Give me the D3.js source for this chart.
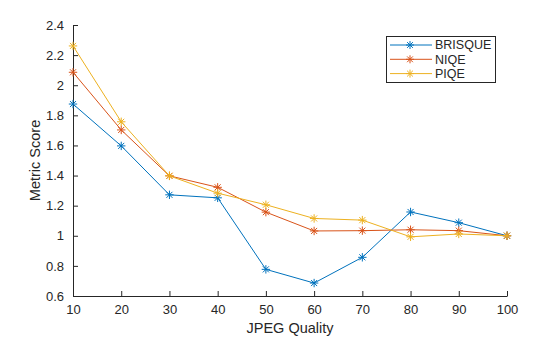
<!DOCTYPE html>
<html lang="en">
<head>
<meta charset="UTF-8">
<title>Metric Score vs JPEG Quality</title>
<script src="https://d3js.org/d3.v7.min.js"></script>
<style>
  body { margin: 0; background: #fff; }
  svg { font-family: "Liberation Sans", Arial, sans-serif; }
</style>
</head>
<body>
<svg id="chart" width="560" height="337"></svg>
<script>
// quality levels and scores per metric
var quality = [10, 20, 30, 40, 50, 60, 70, 80, 90, 100];
var brisque = [1.875, 1.597, 1.272, 1.252, 0.777, 0.686, 0.857, 1.158, 1.087, 1.0];
var niqe    = [2.086, 1.703, 1.398, 1.322, 1.157, 1.032, 1.034, 1.040, 1.034, 1.0];
var piqe    = [2.261, 1.757, 1.398, 1.283, 1.206, 1.115, 1.104, 0.993, 1.012, 1.0];
var seriesNames = ["BRISQUE", "NIQE", "PIQE"];
var yTicks = [0.6, 0.8, 1, 1.2, 1.4, 1.6, 1.8, 2, 2.2, 2.4];

var colors = ["#0072BD", "#D95319", "#EDB120"];
var series = [brisque, niqe, piqe];

var svg = d3.select("#chart");
var plotL = 73, plotR = 507, plotT = 25, plotB = 296;

var x = d3.scaleLinear().domain([10, 100]).range([plotL, plotR]);
var y = d3.scaleLinear().domain([0.6, 2.4]).range([plotB, plotT]);

// axes, ticks pointing inward
var xAxis = d3.axisBottom(x).tickValues(quality).tickSizeInner(-5).tickSizeOuter(0).tickPadding(9)
  .tickFormat(d3.format("d"));
var yAxis = d3.axisLeft(y).tickValues(yTicks).tickSizeInner(-5).tickSizeOuter(0).tickPadding(9)
  .tickFormat(function(d) { return d3.format("~g")(d); });

var gx = svg.append("g").attr("transform", "translate(0," + plotB + ")").call(xAxis);
var gy = svg.append("g").attr("transform", "translate(" + plotL + ",0)").call(yAxis);
[gx, gy].forEach(function(g) {
  g.select(".domain").attr("stroke", "#262626");
  g.selectAll(".tick line").attr("stroke", "#262626");
  g.selectAll("text").attr("fill", "#262626").style("font-size", "13px")
    .style("font-family", "'Liberation Sans', Arial, sans-serif");
});
gx.selectAll("text").attr("dy", "0.71em");

svg.append("text")
  .attr("x", (plotL + plotR) / 2).attr("y", 333)
  .attr("text-anchor", "middle").attr("fill", "#262626")
  .style("font-size", "14.5px").text("JPEG Quality");
svg.append("text")
  .attr("transform", "translate(40," + ((plotT + plotB) / 2) + ") rotate(-90)")
  .attr("text-anchor", "middle").attr("fill", "#262626")
  .style("font-size", "14.5px").text("Metric Score");

// asterisk marker: plus plus an x
function star(g, cx, cy, r, col) {
  var d = "M" + (cx - r) + "," + cy + "h" + (2 * r) +
          "M" + cx + "," + (cy - r) + "v" + (2 * r) +
          "M" + (cx - r * 0.72) + "," + (cy - r * 0.72) + "l" + (1.44 * r) + "," + (1.44 * r) +
          "M" + (cx - r * 0.72) + "," + (cy + r * 0.72) + "l" + (1.44 * r) + "," + (-1.44 * r);
  g.append("path").attr("d", d).attr("stroke", col).attr("stroke-width", 1).attr("fill", "none");
}

var line = d3.line().x(function(d, i) { return x(quality[i]); }).y(function(d) { return y(d); });

series.forEach(function(vals, k) {
  var g = svg.append("g");
  g.append("path").datum(vals).attr("d", line)
    .attr("fill", "none").attr("stroke", colors[k]).attr("stroke-width", 1);
  vals.forEach(function(v, i) { star(g, x(quality[i]), y(v), 4.2, colors[k]); });
});

// legend
var lg = svg.append("g");
lg.append("rect").attr("x", 386.5).attr("y", 36.5).attr("width", 109).attr("height", 46)
  .attr("fill", "#fff").attr("stroke", "#262626").attr("stroke-width", 1);
seriesNames.forEach(function(name, k) {
  var ly = 45 + k * 14.3;
  lg.append("line").attr("x1", 390).attr("x2", 432).attr("y1", ly).attr("y2", ly)
    .attr("stroke", colors[k]).attr("stroke-width", 1);
  star(lg, 410, ly, 4, colors[k]);
  lg.append("text").attr("x", 435).attr("y", ly).attr("dy", "0.35em")
    .attr("fill", "#262626").style("font-size", "12.5px").text(name);
});
</script>
</body>
</html>
